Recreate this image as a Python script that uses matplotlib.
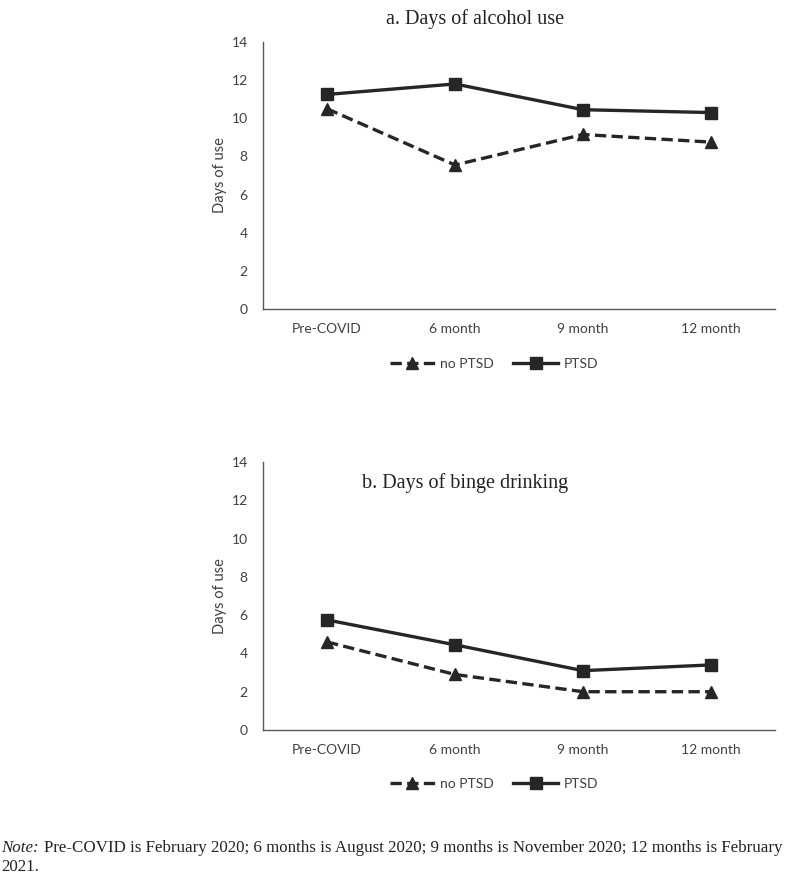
import numpy as np
import matplotlib
matplotlib.use("Agg")
from matplotlib import pyplot as plt

# data
waves = ["Pre-COVID", "6 month", "9 month", "12 month"]
alcohol_no_ptsd = [10.5, 7.55, 9.15, 8.75]
alcohol_ptsd = [11.25, 11.8, 10.45, 10.3]
binge_no_ptsd = [4.6, 2.9, 2.0, 2.0]
binge_ptsd = [5.75, 4.45, 3.1, 3.4]
y_ticks = [0, 2, 4, 6, 8, 10, 12, 14]

sans = "Lato"
serif = "Liberation Serif"
line_col = "#262626"
axis_col = "#595959"

fig = plt.figure(figsize=(7.94, 8.96), dpi=100)

W, H = 794, 896


def px_rect(left, right, top, bottom):
    return [left / W, 1 - bottom / H, (right - left) / W, (bottom - top) / H]


def panel(rect, no_ptsd, ptsd, legend_y):
    ax = fig.add_axes(rect)
    x = np.arange(len(waves))
    ax.plot(x, no_ptsd, color=line_col, lw=2.4, ls=(0, (3.4, 1.6)),
            marker="^", ms=8.5, label="no PTSD")
    ax.plot(x, ptsd, color=line_col, lw=2.4, marker="s", ms=8.5,
            label="PTSD")
    ax.set_xlim(-0.5, 3.5)
    ax.set_ylim(0, 14)
    ax.set_yticks(y_ticks)
    ax.set_xticks(x)
    ax.set_xticklabels(waves)
    for s in ["top", "right"]:
        ax.spines[s].set_visible(False)
    for s in ["left", "bottom"]:
        ax.spines[s].set_color(axis_col)
        ax.spines[s].set_linewidth(1.0)
    ax.tick_params(axis="y", length=0, pad=11, labelsize=10, labelcolor="#404040")
    ax.tick_params(axis="x", length=0, pad=10, labelsize=10, labelcolor="#404040")
    for lab in ax.get_xticklabels() + ax.get_yticklabels():
        lab.set_fontfamily(sans)
    ax.set_ylabel("Days of use", fontsize=10.5, family=sans, color="#404040", labelpad=3)
    fig.legend(*ax.get_legend_handles_labels(), loc="upper center",
               bbox_to_anchor=(494 / W, 1 - legend_y / H), ncol=2, frameon=False,
               prop={"family": sans, "size": 10}, handlelength=3.2,
               handletextpad=0.4, columnspacing=1.4, borderaxespad=0,
               labelcolor="#404040")
    return ax


ax1 = panel(px_rect(263, 775, 42, 309), alcohol_no_ptsd, alcohol_ptsd, 352)
fig.text(475 / W, 1 - 19 / H, "a. Days of alcohol use", ha="center", va="center",
         family=serif, fontsize=14.5, color="#222222")

ax2 = panel(px_rect(263, 775, 462, 730), binge_no_ptsd, binge_ptsd, 772)
fig.text(465 / W, 1 - 483 / H, "b. Days of binge drinking", ha="center", va="center",
         family=serif, fontsize=14.5, color="#222222")

# note below the charts
note_size = 12.2
note_lab = fig.text(1 / W, 1 - 848 / H, "Note:", ha="left", va="center", family=serif,
                    style="italic", fontsize=note_size, color="#222222")
fig.canvas.draw()
bb = note_lab.get_window_extent(fig.canvas.get_renderer())
fig.text((bb.x1 + 5) / W, 1 - 848 / H,
         "Pre-COVID is February 2020; 6 months is August 2020; 9 months is November 2020; 12 months is February",
         ha="left", va="center", family=serif, fontsize=note_size, color="#222222")
fig.text(1 / W, 1 - 867 / H, "2021.", ha="left", va="center", family=serif,
         fontsize=note_size, color="#222222")

fig.savefig("out.png", dpi=100)
